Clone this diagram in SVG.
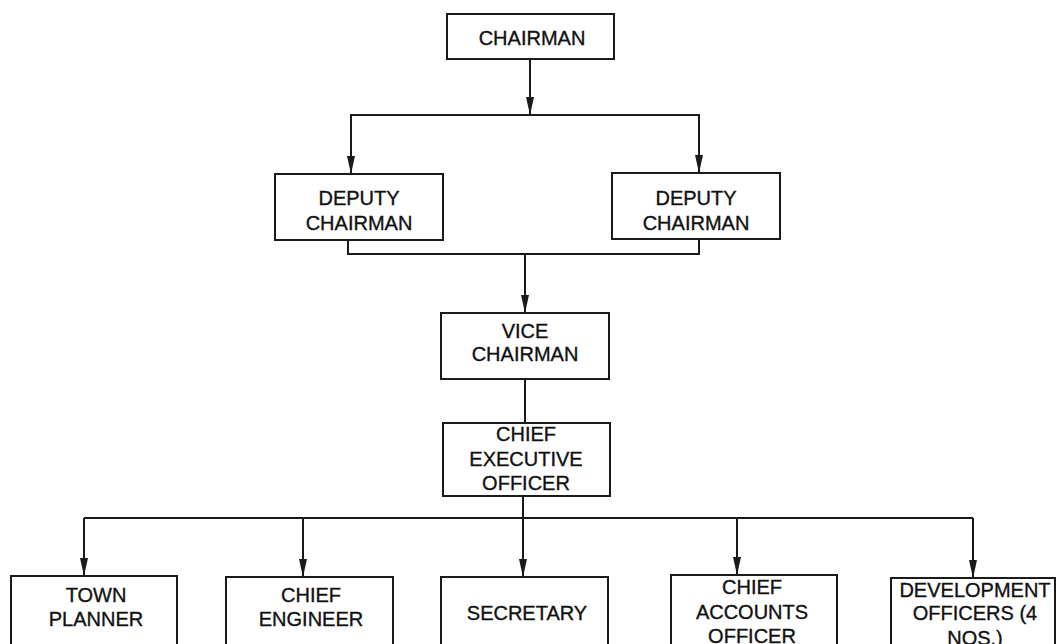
<svg xmlns="http://www.w3.org/2000/svg" width="1056" height="644" viewBox="0 0 1056 644">
<style>
.box{fill:#fff;stroke:#1a1a1a;stroke-width:2}
.ln{fill:none;stroke:#1a1a1a;stroke-width:2}
text{font-family:"Liberation Sans",Arial,sans-serif;font-size:20px;fill:#111;stroke:#111;stroke-width:0.35;text-anchor:middle}
</style>
<defs>
<marker id="arr" viewBox="0 0 18 8" refX="18" refY="4" markerWidth="18" markerHeight="8" markerUnits="userSpaceOnUse" orient="auto">
<path d="M0,0 L18,4 L0,8 Z" fill="#1a1a1a"/>
</marker>
</defs>
<rect width="1056" height="644" fill="#fff"/>
<g id="connectors">
<path class="ln" d="M530,59 V115" marker-end="url(#arr)"/>
<path class="ln" d="M350,115 H700"/>
<path class="ln" d="M351,115 V174" marker-end="url(#arr)"/>
<path class="ln" d="M699,115 V173" marker-end="url(#arr)"/>
<path class="ln" d="M348,240 V254 H699 V239"/>
<path class="ln" d="M525,254 V313" marker-end="url(#arr)"/>
<path class="ln" d="M525,379 V423"/>
<path class="ln" d="M84,518 H973"/>
<path class="ln" d="M84,518 V576" marker-end="url(#arr)"/>
<path class="ln" d="M303,518 V577" marker-end="url(#arr)"/>
<path class="ln" d="M523,496 V577" marker-end="url(#arr)"/>
<path class="ln" d="M737,518 V575" marker-end="url(#arr)"/>
<path class="ln" d="M973,518 V578" marker-end="url(#arr)"/>
</g>
<g id="chairman"><rect class="box" x="447" y="14" width="167" height="45"/><text x="532" y="45">CHAIRMAN</text></g>
<g id="deputy1"><rect class="box" x="275" y="174" width="168" height="66"/><text x="359" y="205">DEPUTY</text><text x="359" y="230">CHAIRMAN</text></g>
<g id="deputy2"><rect class="box" x="612" y="173" width="168" height="66"/><text x="696" y="205">DEPUTY</text><text x="696" y="230">CHAIRMAN</text></g>
<g id="vice"><rect class="box" x="441" y="313" width="168" height="66"/><text x="525" y="338">VICE</text><text x="525" y="361">CHAIRMAN</text></g>
<g id="ceo"><rect class="box" x="443" y="423" width="167" height="73"/><text x="526" y="441">CHIEF</text><text x="526" y="466">EXECUTIVE</text><text x="526" y="490">OFFICER</text></g>
<g id="town"><rect class="box" x="11" y="576" width="166" height="90"/><text x="96" y="602">TOWN</text><text x="96" y="626">PLANNER</text></g>
<g id="engineer"><rect class="box" x="226" y="577" width="167" height="90"/><text x="311" y="602">CHIEF</text><text x="311" y="626">ENGINEER</text></g>
<g id="secretary"><rect class="box" x="441" y="577" width="167" height="90"/><text x="527" y="620">SECRETARY</text></g>
<g id="accounts"><rect class="box" x="671" y="575" width="166" height="90"/><text x="752" y="594">CHIEF</text><text x="752" y="619">ACCOUNTS</text><text x="752" y="643">OFFICER</text></g>
<g id="development"><rect class="box" x="891" y="578" width="164" height="90"/><text x="975" y="597">DEVELOPMENT</text><text x="975" y="620">OFFICERS (4</text><text x="975" y="645">NOS.)</text></g>
</svg>
